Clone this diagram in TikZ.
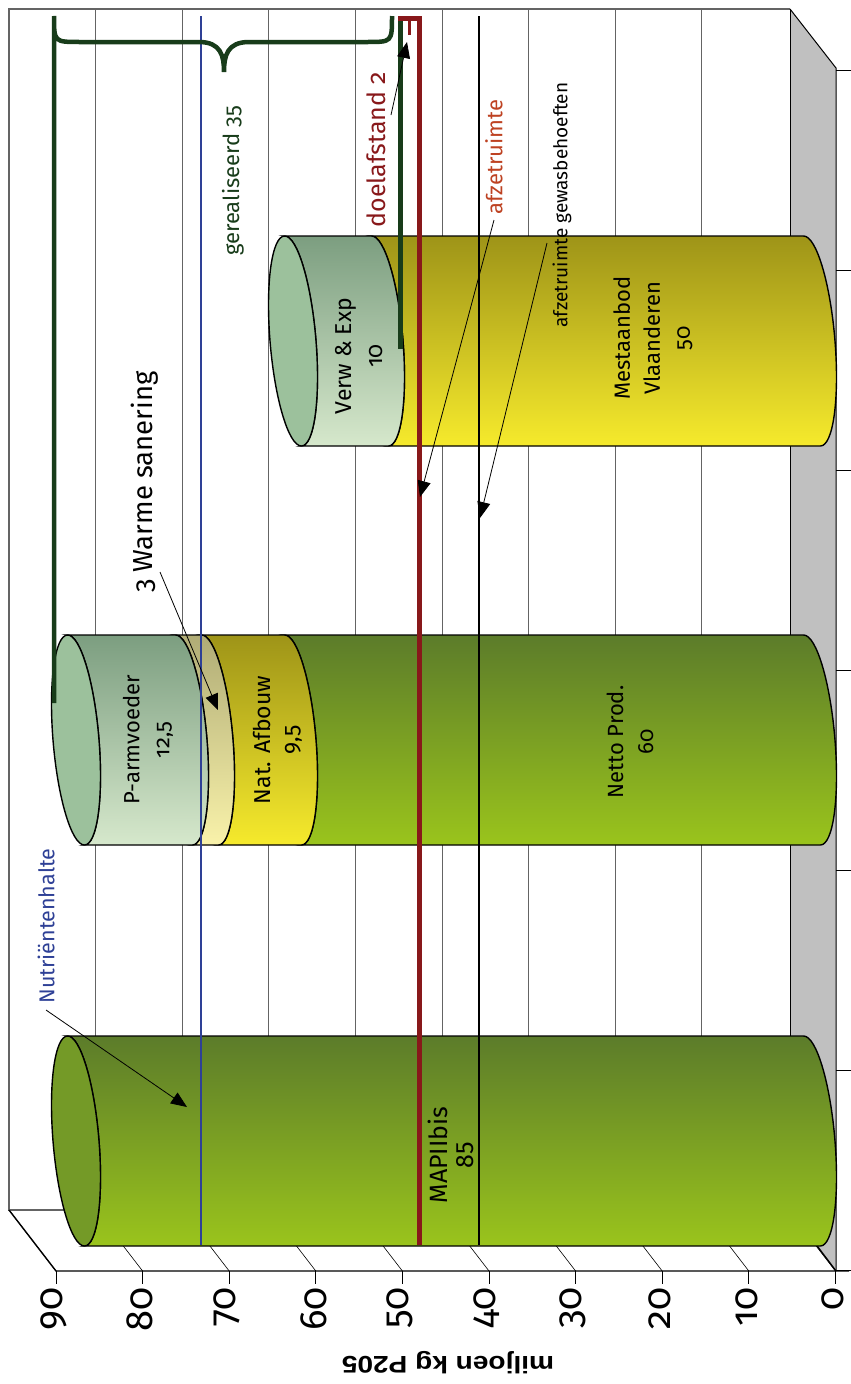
\documentclass[tikz,border=0pt]{standalone}
\usepackage{fontspec}
\setmainfont{Fira Sans}[Numbers=OldStyle]
\newfontfamily\axtitlefont{Liberation Sans}
\usetikzlibrary{arrows.meta,positioning,calc}
\definecolor{nutblue}{RGB}{46,64,150}
\definecolor{doelred}{RGB}{136,24,26}
\definecolor{afzred}{RGB}{190,66,34}
\definecolor{realgreen}{RGB}{24,60,26}
\definecolor{wallgrey}{RGB}{192,192,192}
\definecolor{gridgrey}{RGB}{100,100,100}
\definecolor{grnTop}{RGB}{92,124,42}
\definecolor{grnBot}{RGB}{154,196,28}
\definecolor{grnCap}{RGB}{116,154,39}
\definecolor{yelTop}{RGB}{158,148,24}
\definecolor{yelBot}{RGB}{246,234,44}
\definecolor{palTop}{RGB}{176,172,118}
\definecolor{palBot}{RGB}{249,242,170}
\definecolor{mntTop}{RGB}{124,158,128}
\definecolor{mntBot}{RGB}{214,232,204}
\definecolor{mntCap}{RGB}{156,193,156}

% one stacked piece of a lying cylinder: centre y, left x, right x, top/bottom colour
\newcommand{\cylpiece}[5]{%
  \begin{scope}[shift={(0,#1)}, xslant=-0.08]
    \draw[cylline, top color=#4, bottom color=#5] (#2,-105) -- (#3,-105)
      arc[start angle=90, end angle=-90, x radius=23pt, y radius=105pt]
      -- (#2,105)
      arc[start angle=-90, end angle=90, x radius=23pt, y radius=105pt] -- cycle;
  \end{scope}}
% visible end of a cylinder: centre y, x, fill
\newcommand{\cylend}[3]{%
  \begin{scope}[shift={(0,#1)}, xslant=-0.08]
    \draw[cylline, fill=#3] (#2,0) ellipse[x radius=23pt, y radius=105pt];
  \end{scope}}

\begin{document}
\begin{tikzpicture}[x=1pt, y=-1pt,
  cylline/.style={draw=black, line width=1.4pt},
  gridline/.style={draw=gridgrey, line width=0.9pt},
  pointer/.style={-{Triangle[length=16pt, width=13pt]}, line width=0.8pt, black},
  barlbl/.style={rotate=90, align=center, font=\fontsize{22}{30}\selectfont, inner sep=0pt},
  sidelbl/.style={rotate=90, inner sep=0pt},
  ticklbl/.style={rotate=90, anchor=east, inner sep=0pt, font=\fontsize{38}{38}\selectfont\addfontfeatures{Numbers=OldStyle}}]
  \useasboundingbox (0,0) rectangle (851,1384);

  %--- Walls and grid ---
  \fill[white] (0,0) rectangle (851,1384);
  \foreach \k in {1,...,8}
    \draw[gridline] ({9+86.6*\k},9) -- ({9+86.6*\k},1210);
  \fill[wallgrey] (790,9) -- (836,68) -- (836,1271) -- (790,1210) -- cycle;
  \draw[gridgrey, line width=1.4pt] (790,1210) -- (9,1210) -- (9,9) -- (790,9);
  \draw[black, line width=1pt] (790,9) -- (790,1210);
  \draw[black, line width=1pt] (790,9) -- (836,68) -- (836,1271);
  \foreach \yy in {70,270,...,1270}
    \draw[black, line width=1pt] (836,\yy) -- (851,\yy);

  % floor strip
  \foreach \k in {0,...,9}
    \draw[black, line width=0.6pt] ({9+86.6*\k},1210) -- ({56+86.6*\k},1271);
  \draw[black, line width=1.4pt] (9,1210) -- (56,1271) -- (849,1271);
  \draw[black, line width=1.4pt] (790,1210) -- (836,1271);
  \foreach \k in {0,...,9}
    \draw[black, line width=0.9pt] ({56+86.6*\k},1271) -- ++(0,13);

  %--- Cylinders ---
  % MAPIIbis
  \cylpiece{1141}{76}{812}{grnTop}{grnBot}
  \cylend{1141}{76}{grnCap}
  % Netto Prod. / Nat. Afbouw / Warme sanering / P-armvoeder
  \cylpiece{740}{293}{812}{grnTop}{grnBot}
  \cylpiece{740}{210}{293}{yelTop}{yelBot}
  \cylpiece{740}{184}{210}{palTop}{palBot}
  \cylpiece{740}{76}{184}{mntTop}{mntBot}
  \cylend{740}{76}{mntCap}
  % Mestaanbod / Verw & Exp
  \cylpiece{341}{380}{812}{yelTop}{yelBot}
  \cylpiece{341}{293}{380}{mntTop}{mntBot}
  \cylend{341}{293}{mntCap}

  %--- Reference lines ---
  \draw[nutblue, line width=2pt] (201,16) -- (201,1245);
  \draw[black, line width=1.2pt] (479,16) -- (479,1245);
  \draw[realgreen, line width=4.5pt] (54,703) -- (54,16)
    .. controls (54,42) .. (80,42) -- (199,42)
    .. controls (221,42) and (224,56) .. (224,72)
    .. controls (224,56) and (227,42) .. (249,42) -- (367,42)
    .. controls (392,42) .. (392,16);
  \draw[realgreen, line width=5pt] (400,16) -- (400,349);
  \draw[doelred, line width=5pt] (398,18.5) -- (419.5,18.5) -- (419.5,1245);
  \draw[doelred, line width=3pt] (409,20) -- (409,35);

  %--- Bar labels ---
  \node[barlbl, font=\fontsize{25}{26}\selectfont] (mapi) at (451,1155) {MAPIIbis\\\addfontfeatures{Numbers=Lining}85};
  \node[barlbl] (parm) at (148,740) {P-armvoeder\\12,5};
  \node[barlbl, font=\fontsize{23}{28}\selectfont] (afbouw) at (278,740) {Nat. Afbouw\\9,5};
  \node[barlbl] (netto) at (630,742) {Netto Prod.\\60};
  \node[barlbl, font=\fontsize{23}{31}\selectfont] (verw) at (359,356) {Verw \& Exp\\10};
  \node[barlbl] (mest) at (653,338) {Mestaanbod\\Vlaanderen\\50};

  %--- Side labels and pointers ---
  \node[sidelbl, text=realgreen, font=\fontsize{22}{22}\selectfont] (real) at (233,181) {gerealiseerd 35};
  \node[sidelbl, text=doelred, font=\fontsize{25}{25}\selectfont] (doel) at (376,150) {doelafstand 2};
  \node[sidelbl, text=afzred, font=\fontsize{22}{22}\selectfont] (afz) at (494,157) {afzetruimte};
  \node[sidelbl, font=\fontsize{19}{19}\selectfont] (gewas) at (562,205) {afzetruimte gewasbehoeften};
  \node[sidelbl, font=\fontsize{27.5}{27.5}\selectfont] (warme) at (145,482) {3 Warme sanering};
  \node[sidelbl, text=nutblue, font=\fontsize{21.5}{21.5}\selectfont] (nut) at (46,926) {Nutriëntenhalte};

  \coordinate (doelA) at (391,115);  \coordinate (doelB) at (407,42);
  \coordinate (afzA) at (494,220);   \coordinate (afzB) at (420,497);
  \coordinate (gewasA) at (547,243); \coordinate (gewasB) at (480,518);
  \coordinate (warmeA) at (160,572); \coordinate (warmeB) at (218,710);
  \coordinate (nutA) at (46,1010);   \coordinate (nutB) at (187,1107);
  \draw[pointer] (doelA) -- (doelB);
  \draw[pointer] (afzA) -- (afzB);
  \draw[pointer] (gewasA) -- (gewasB);
  \draw[pointer] (warmeA) -- (warmeB);
  \draw[pointer] (nutA) -- (nutB);

  %--- Value axis ---
  \foreach \v in {0,10,...,90}
    \node[ticklbl] (tick\v) at ({833-8.66*\v},1287) {\v};
  \node[rotate=180, xscale=1.17, font=\axtitlefont\bfseries\fontsize{24}{24}\selectfont] (axtitle) at (448,1363) {miljoen kg P205};
\end{tikzpicture}
\end{document}
